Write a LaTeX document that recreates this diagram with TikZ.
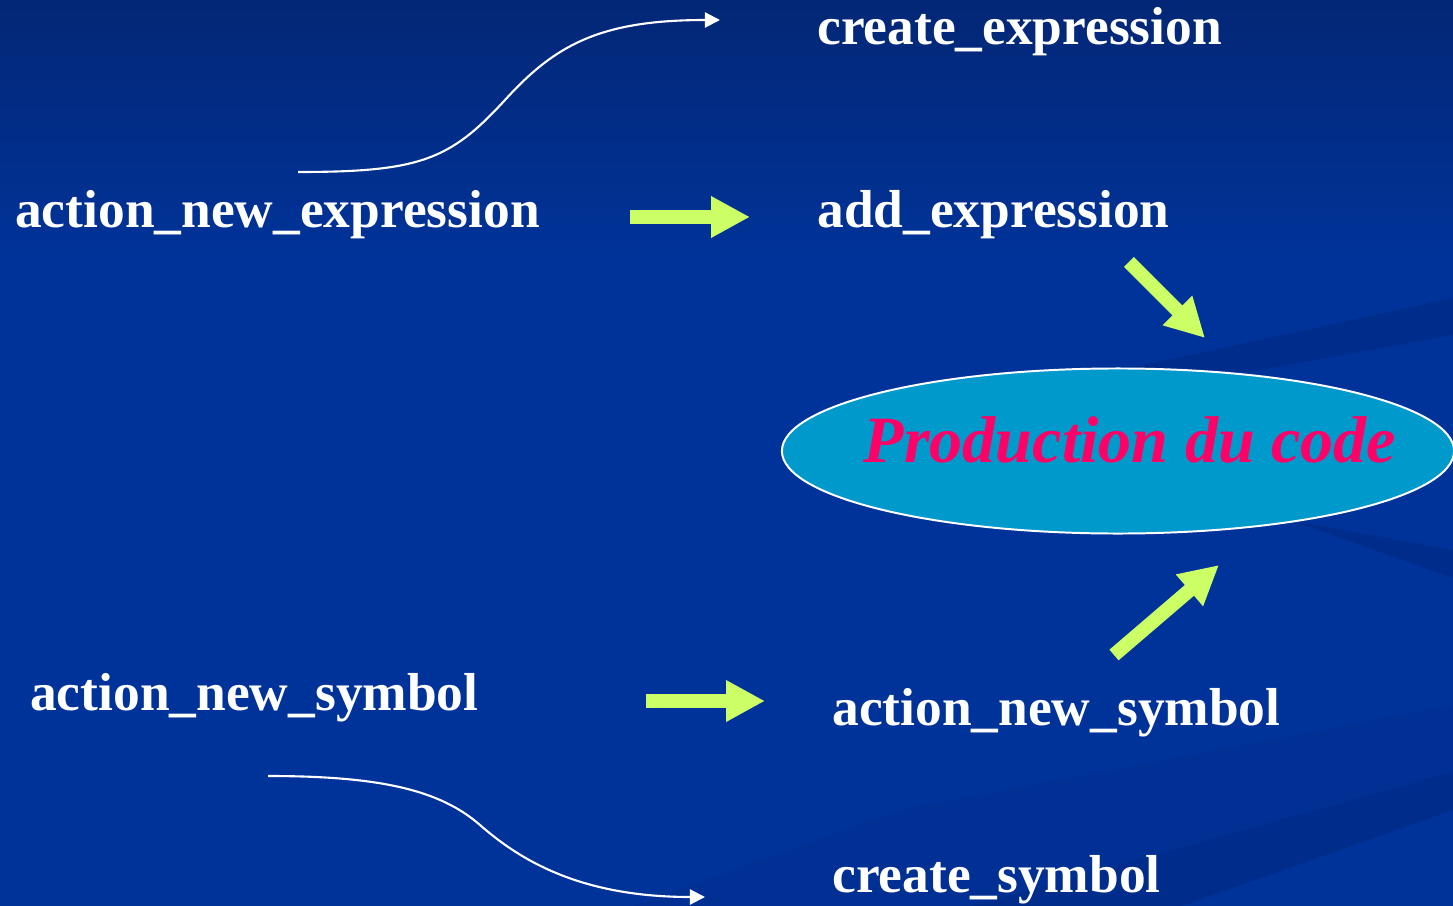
\documentclass[tikz,border=0pt]{standalone}
\usepackage{fontspec}
\setmainfont{Liberation Serif}
\usetikzlibrary{shapes.geometric, arrows.meta, calc}
\definecolor{slideblue}{RGB}{0,51,153}
\definecolor{slidetop}{RGB}{3,39,118}
\definecolor{streakblue}{RGB}{0,45,139}
\definecolor{arrowgreen}{RGB}{204,255,102}
\definecolor{ovalcyan}{RGB}{0,153,204}
\definecolor{codepink}{RGB}{255,0,102}

\begin{document}
\begin{tikzpicture}[x=0.025cm, y=-0.025cm,
  lbl/.style={anchor=base west, inner sep=0pt, text=white, font=\fontsize{38}{44}\selectfont\bfseries},
  fatarrow/.style={draw=arrowgreen, line width=10pt, -{Triangle[length=27.7pt, width=27.7pt]}},
  thinarrow/.style={draw=white, line width=1.5pt, -{Triangle[length=10.7pt, width=10.7pt]}}]
  \useasboundingbox (0,0) rectangle (1453,906);

  % slide background
  \fill[slideblue] (0,0) rectangle (1453,906);
  \shade[top color=slidetop, bottom color=slideblue] (0,0) rectangle (1453,260);
  \fill[streakblue] (1130,368) -- (1453,298) -- (1453,335) -- (1250,372) -- cycle;
  \fill[streakblue] (1290,520) -- (1453,550) -- (1453,578) -- (1360,545) -- cycle;
  \fill[streakblue, opacity=0.4] (633,906) -- (900,810) -- (1453,705) -- (1453,772) -- (971,906) -- cycle;
  \fill[streakblue] (971,906) -- (1453,772) -- (1453,810) -- (1182,906) -- cycle;

  \node[lbl] (crexp) at (817,45) {create\_expression};
  \node[lbl] (anexp) at (15,227) {action\_new\_expression};
  \node[lbl] (addexp) at (817,227) {add\_expression};
  \node[lbl] (ansymL) at (30,710) {action\_new\_symbol};
  \node[lbl] (ansymR) at (832,725) {action\_new\_symbol};
  \node[lbl] (crsym) at (832,892) {create\_symbol};

  \node[ellipse, draw=white, line width=1.4pt, fill=ovalcyan, minimum width=16.8cm, minimum height=4.125cm, inner sep=0pt] (prod) at (1118,451) {};
  \node[anchor=base, inner sep=0pt, text=codepink, font=\fontsize{47}{53}\selectfont\bfseries\itshape] (prodlbl) at ($(prod.center)+(12,11)$) {Production du code};

  \draw[fatarrow] ($(anexp.base east)+(90,-10)$) -- ($(addexp.base west)+(-67,-10)$);
  \draw[fatarrow] ($(ansymL.base east)+(167,-9)$) -- ($(ansymR.base west)+(-67,-24)$);
  \draw[fatarrow] ($(addexp.base east)+(-41,35)$) -- ($(prod.center)+(87,-113)$);
  \draw[fatarrow] ($(ansymR.base west)+(282,-70)$) -- ($(prod.center)+(101,114)$);

  % curved links
  \coordinate (exstart) at ($(anexp.base west)+(283,-55)$);
  \coordinate (exend) at ($(crexp.base west)+(-97,-25)$);
  \draw[thinarrow] (exstart) .. controls (420,172) and (450,160) .. (505,100) .. controls (555,45) and (600,20) .. (exend);
  \coordinate (systart) at ($(ansymL.base west)+(238,66)$);
  \coordinate (syend) at ($(crsym.base west)+(-127,5)$);
  \draw[thinarrow] (systart) .. controls (380,776) and (440,790) .. (480,825) .. controls (520,860) and (580,897) .. (syend);
\end{tikzpicture}
\end{document}
